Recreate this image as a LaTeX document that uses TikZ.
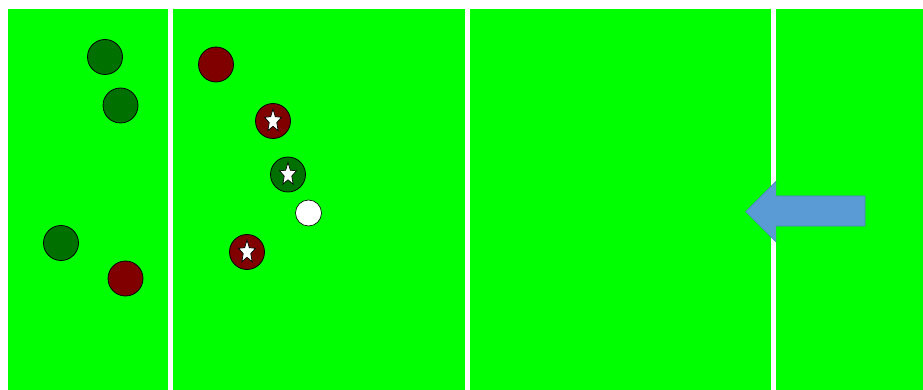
\documentclass[tikz,border=0pt]{standalone}
\usetikzlibrary{shapes.arrows}
\definecolor{field}{HTML}{00FF00}
\definecolor{dgreen}{HTML}{007000}
\definecolor{dred}{HTML}{800000}
\definecolor{arrowblue}{HTML}{5B9BD5}
\definecolor{arrowedge}{HTML}{4A86BE}
\tikzset{
  player/.style={circle, draw=black, line width=0.8pt, minimum size=35pt, inner sep=0pt},
  gplayer/.style={player, fill=dgreen},
  rplayer/.style={player, fill=dred},
  ballnode/.style={circle, draw=black, line width=0.6pt, fill=white, minimum size=26pt, inner sep=0pt},
  fieldline/.style={draw=white, line width=5pt},
  starmark/.style={fill=white, draw=black, line width=0.7pt, line join=miter}
}
\newcommand{\starat}[1]{%
  \begin{scope}[shift={(#1)}, xscale=0.74, yscale=-1]
    \fill[starmark] (90:12) -- (126:5.3) -- (162:12) -- (198:5.3) -- (234:12) -- (270:5.3) -- (306:12) -- (342:5.3) -- (18:12) -- (54:5.3) -- cycle;
  \end{scope}}
\begin{document}
\begin{tikzpicture}[x=1pt, y=-1pt]
  \useasboundingbox (0,0) rectangle (923,390);
  \fill[white] (0,0) rectangle (923,390);
  \fill[field] (8,9) rectangle (923,390);
  \coordinate (l1t) at (170.5,9); \coordinate (l1b) at (170.5,390);
  \coordinate (l2t) at (467.5,9); \coordinate (l2b) at (467.5,390);
  \coordinate (l3t) at (773.5,9); \coordinate (l3b) at (773.5,390);
  \draw[fieldline] (l1t) -- (l1b);
  \draw[fieldline] (l2t) -- (l2b);
  \draw[fieldline] (l3t) -- (l3b);
  % left zone
  \node[gplayer] (g1) at (105,57) {};
  \node[gplayer] (g2) at (120.5,105.5) {};
  \node[gplayer] (g3) at (61,243) {};
  \node[rplayer] (r1) at (125.5,278.5) {};
  % second zone
  \node[rplayer] (r2) at (216,64.5) {};
  \node[rplayer] (r3) at (273,121) {};
  \node[gplayer] (g4) at (288,174.5) {};
  \node[ballnode] (ball) at (308.5,213) {};
  \node[rplayer] (r4) at (247,252) {};
  \starat{r3.center}
  \starat{g4.center}
  \starat{r4.center}
  % arrow
  \fill[arrowblue, draw=arrowedge, line width=0.6pt]
    (745.7,211.7) -- (775.7,181.7) -- (775.7,196) -- (865,196) -- (865,226) -- (775.7,226) -- (775.7,241.7) -- cycle;
\end{tikzpicture}
\end{document}
